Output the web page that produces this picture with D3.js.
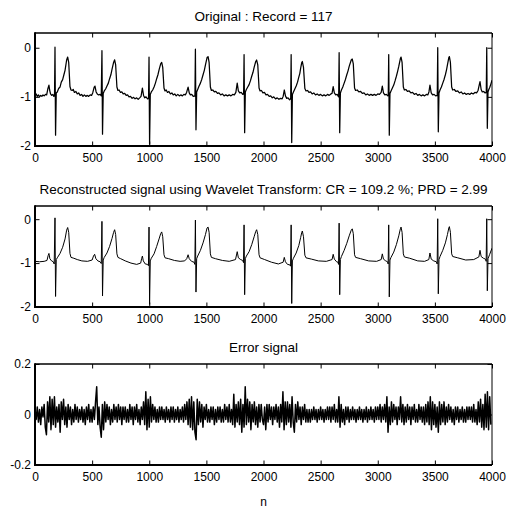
<!DOCTYPE html>
<html>
<head>
<meta charset="utf-8">
<script src="https://cdn.jsdelivr.net/npm/d3@7"></script>
<style>
  body { margin: 0; background: #fff; }
  text { font-family: "Liberation Sans", Arial, sans-serif; fill: #000; }
</style>
</head>
<body>
<div id="chart"></div>
<script>

// x ticks shared by all three panels
var xTicks = [0, 500, 1000, 1500, 2000, 2500, 3000, 3500, 4000];
var ecgTicks = [-2, -1, 0];
var errTicks = [-0.2, 0, 0.2];

var titles = [
  "Original : Record = 117",
  "Reconstructed signal using Wavelet Transform: CR = 109.2 %; PRD = 2.99",
  "Error signal"
];

// original record, [sample, amplitude]
var origSignal = [
[0,-0.97],[10,-0.94],[20,-0.99],[30,-0.96],[40,-1.0],[50,-0.97],[60,-0.99],[70,-0.96],[80,-0.98],[92,-0.95],[102,-0.96],[112,-0.84],[122,-0.76],[128,-0.86],[136,-0.94],[146,-0.97],[156,-0.95],[165,-0.99],[171,-0.97],[175,0.01],[180,-1.78],[186,-0.92],[195,-0.9],[207,-0.83],[219,-0.8],[230,-0.7],[242,-0.65],[253,-0.55],[263,-0.46],[277,-0.25],[286,-0.19],[295,-0.3],[306,-0.79],[315,-0.86],[325,-0.87],[335,-0.85],[345,-0.91],[358,-0.89],[370,-0.94],[382,-0.92],[395,-0.97],[408,-0.95],[420,-0.99],[432,-0.96],[445,-0.99],[458,-0.97],[470,-0.99],[483,-0.96],[495,-0.97],
[505,-0.92],[518,-0.8],[525,-0.78],[535,-0.9],[545,-0.94],[557,-0.96],[570,-0.95],[580,-0.98],[586,-0.06],[591,-1.76],[597,-0.93],[606,-0.88],[618,-0.84],[630,-0.78],[642,-0.72],[653,-0.63],[664,-0.55],[674,-0.44],[688,-0.3],[697,-0.245],[706,-0.35],[717,-0.8],[726,-0.87],[736,-0.86],[748,-0.91],[760,-0.9],[772,-0.94],[785,-0.93],[798,-0.97],[810,-0.96],[823,-1.0],[836,-0.99],[850,-1.03],[863,-1.01],[876,-1.04],[890,-1.02],[903,-1.05],[916,-1.02],[928,-0.99],
[940,-0.82],[950,-0.97],[960,-1.02],[972,-1.0],[985,-1.04],[994,-1.03],[998,-0.19],[1003,-1.96],[1009,-0.95],[1018,-0.9],[1030,-0.86],[1042,-0.8],[1054,-0.72],[1065,-0.63],[1076,-0.55],[1086,-0.45],[1100,-0.33],[1109,-0.3],[1118,-0.4],[1129,-0.82],[1138,-0.88],[1148,-0.86],[1160,-0.91],[1172,-0.89],[1185,-0.94],[1198,-0.92],[1210,-0.96],[1223,-0.94],[1236,-0.98],[1250,-0.95],[1263,-0.98],[1276,-0.96],[1290,-0.98],[1303,-0.95],[1316,-0.96],[1327,-0.91],
[1340,-0.8],[1350,-0.92],[1360,-0.96],[1372,-0.95],[1385,-0.99],[1400,-0.98],[1404,-0.03],[1409,-1.67],[1415,-0.9],[1424,-0.85],[1436,-0.78],[1448,-0.72],[1460,-0.64],[1471,-0.55],[1482,-0.46],[1492,-0.35],[1506,-0.2],[1515,-0.18],[1524,-0.3],[1535,-0.8],[1544,-0.87],[1556,-0.86],[1570,-0.9],[1583,-0.89],[1597,-0.93],[1610,-0.92],[1625,-0.96],[1640,-0.94],[1655,-0.98],[1670,-0.96],[1685,-0.98],[1700,-0.96],[1715,-0.98],[1730,-0.95],[1745,-0.96],[1758,-0.91],
[1770,-0.72],[1780,-0.88],[1792,-0.92],[1805,-0.91],[1818,-0.95],[1826,-0.94],[1830,-0.14],[1835,-1.73],[1841,-0.9],[1850,-0.85],[1862,-0.8],[1874,-0.75],[1886,-0.67],[1897,-0.58],[1908,-0.5],[1918,-0.4],[1932,-0.28],[1940,-0.25],[1950,-0.35],[1961,-0.82],[1970,-0.88],[1982,-0.87],[1995,-0.92],[2008,-0.91],[2022,-0.96],[2035,-0.95],[2050,-0.99],[2063,-0.98],[2077,-1.02],[2090,-1.0],[2105,-1.04],[2120,-1.02],[2135,-1.05],[2150,-1.03],[2163,-1.04],[2172,-0.99],
[2182,-0.86],[2192,-0.98],[2203,-1.03],[2215,-1.02],[2228,-1.06],[2238,-1.04],[2242,-0.14],[2247,-1.93],[2253,-0.95],[2262,-0.9],[2274,-0.84],[2286,-0.78],[2298,-0.7],[2309,-0.6],[2318,-0.52],[2325,-0.42],[2335,-0.3],[2340,-0.28],[2350,-0.4],[2362,-0.83],[2372,-0.88],[2385,-0.87],[2398,-0.91],[2412,-0.9],[2426,-0.94],[2440,-0.92],[2455,-0.96],[2470,-0.94],[2485,-0.97],[2500,-0.95],[2515,-0.98],[2530,-0.96],[2545,-0.98],[2560,-0.95],[2575,-0.97],[2590,-0.94],[2600,-0.93],
[2610,-0.79],[2620,-0.92],[2632,-0.96],[2645,-0.95],[2655,-0.99],[2658,-1.0],[2662,-0.1],[2667,-1.73],[2673,-0.92],[2682,-0.86],[2694,-0.8],[2706,-0.72],[2718,-0.64],[2729,-0.55],[2740,-0.47],[2750,-0.38],[2768,-0.25],[2777,-0.23],[2786,-0.33],[2797,-0.82],[2806,-0.87],[2820,-0.86],[2835,-0.9],[2850,-0.89],[2865,-0.93],[2880,-0.92],[2895,-0.96],[2910,-0.94],[2925,-0.97],[2940,-0.95],[2955,-0.97],[2970,-0.95],[2985,-0.97],[3000,-0.94],[3015,-0.95],[3030,-0.91],
[3040,-0.78],[3050,-0.92],[3062,-0.96],[3075,-0.95],[3088,-0.98],[3092,-0.97],[3096,-0.14],[3101,-1.78],[3107,-0.93],[3116,-0.88],[3128,-0.82],[3140,-0.76],[3152,-0.67],[3163,-0.58],[3174,-0.48],[3184,-0.38],[3198,-0.22],[3204,-0.19],[3213,-0.3],[3224,-0.8],[3233,-0.86],[3246,-0.85],[3260,-0.89],[3275,-0.88],[3290,-0.92],[3305,-0.91],[3320,-0.95],[3335,-0.93],[3350,-0.97],[3365,-0.95],[3380,-0.98],[3395,-0.96],[3410,-0.98],[3425,-0.95],[3438,-0.96],[3448,-0.9],
[3457,-0.76],[3468,-0.92],[3480,-0.96],[3493,-0.95],[3507,-0.98],[3521,-0.97],[3525,0.0],[3530,-1.71],[3536,-0.92],[3545,-0.86],[3557,-0.8],[3569,-0.72],[3581,-0.64],[3592,-0.55],[3602,-0.45],[3610,-0.35],[3622,-0.2],[3627,-0.18],[3636,-0.3],[3647,-0.8],[3656,-0.86],[3670,-0.85],[3685,-0.89],[3700,-0.88],[3715,-0.92],[3730,-0.9],[3745,-0.94],[3760,-0.92],[3775,-0.95],[3790,-0.93],[3805,-0.95],[3820,-0.92],[3835,-0.94],[3850,-0.91],[3865,-0.92],[3878,-0.87],
[3888,-0.76],[3895,-0.69],[3905,-0.85],[3915,-0.9],[3927,-0.89],[3940,-0.92],[3950,-0.91],[3954,0.0],[3959,-1.64],[3965,-0.9],[3972,-0.85],[3980,-0.81],[3990,-0.74],[4000,-0.66]
];

// wavelet reconstruction, smoother
var reconSignal = [
[0,-0.96],[40,-0.97],[80,-0.96],[105,-0.94],[115,-0.83],[122,-0.78],[130,-0.9],[145,-0.95],[160,-0.97],[168,-1.02],[175,0.03],[180,-1.76],[186,-0.92],[195,-0.88],[219,-0.78],[242,-0.64],[263,-0.45],[277,-0.25],[286,-0.19],[295,-0.3],[306,-0.78],[315,-0.87],[340,-0.89],[370,-0.92],[410,-0.95],[460,-0.96],[500,-0.93],
[512,-0.84],[522,-0.8],[533,-0.9],[550,-0.95],[570,-0.97],[580,-1.01],[586,-0.05],[591,-1.75],[597,-0.93],[606,-0.87],[630,-0.77],[653,-0.62],[674,-0.44],[688,-0.3],[697,-0.24],[706,-0.35],[717,-0.79],[726,-0.87],[750,-0.9],[790,-0.95],[840,-1.0],[890,-1.03],[925,-1.0],
[933,-0.9],[940,-0.84],[948,-0.95],[965,-1.02],[985,-1.03],[993,-1.06],[998,-0.18],[1003,-1.94],[1009,-0.95],[1018,-0.89],[1042,-0.79],[1065,-0.62],[1086,-0.45],[1100,-0.33],[1109,-0.29],[1118,-0.4],[1129,-0.81],[1138,-0.88],[1170,-0.9],[1220,-0.94],[1270,-0.96],[1310,-0.95],[1328,-0.9],
[1340,-0.81],[1350,-0.9],[1370,-0.96],[1392,-0.98],[1399,-1.03],[1404,-0.02],[1409,-1.66],[1415,-0.9],[1424,-0.84],[1448,-0.71],[1471,-0.54],[1492,-0.35],[1506,-0.2],[1515,-0.18],[1524,-0.3],[1535,-0.79],[1544,-0.87],[1580,-0.9],[1640,-0.94],[1700,-0.96],[1755,-0.92],
[1770,-0.74],[1780,-0.88],[1800,-0.92],[1818,-0.94],[1825,-0.99],[1830,-0.13],[1835,-1.72],[1841,-0.9],[1850,-0.84],[1874,-0.74],[1897,-0.58],[1918,-0.4],[1932,-0.28],[1940,-0.24],[1950,-0.35],[1961,-0.81],[1970,-0.88],[2010,-0.92],[2070,-0.98],[2130,-1.02],[2172,-0.98],
[2182,-0.87],[2192,-0.97],[2210,-1.03],[2230,-1.04],[2237,-1.07],[2242,-0.13],[2247,-1.92],[2253,-0.95],[2262,-0.89],[2286,-0.77],[2309,-0.6],[2325,-0.42],[2335,-0.3],[2340,-0.27],[2350,-0.4],[2362,-0.82],[2372,-0.88],[2420,-0.91],[2480,-0.95],[2550,-0.96],[2600,-0.92],
[2610,-0.8],[2620,-0.91],[2640,-0.97],[2652,-0.98],[2657,-1.03],[2662,-0.09],[2667,-1.72],[2673,-0.92],[2682,-0.85],[2706,-0.71],[2729,-0.55],[2750,-0.38],[2768,-0.25],[2777,-0.22],[2786,-0.33],[2797,-0.81],[2806,-0.87],[2850,-0.9],[2920,-0.95],[2990,-0.96],[3030,-0.92],
[3040,-0.79],[3050,-0.91],[3070,-0.95],[3086,-0.97],[3091,-1.02],[3096,-0.13],[3101,-1.77],[3107,-0.93],[3116,-0.87],[3140,-0.75],[3163,-0.58],[3184,-0.38],[3198,-0.22],[3204,-0.18],[3213,-0.3],[3224,-0.79],[3233,-0.86],[3280,-0.89],[3350,-0.95],[3410,-0.96],[3447,-0.92],
[3457,-0.77],[3468,-0.91],[3490,-0.95],[3513,-0.97],[3520,-1.02],[3525,0.01],[3530,-1.7],[3536,-0.92],[3545,-0.85],[3569,-0.71],[3592,-0.54],[3610,-0.35],[3622,-0.2],[3627,-0.17],[3636,-0.3],[3647,-0.79],[3656,-0.85],[3700,-0.88],[3770,-0.93],[3840,-0.92],[3885,-0.86],
[3895,-0.71],[3905,-0.85],[3925,-0.89],[3943,-0.91],[3949,-0.96],[3954,0.01],[3959,-1.63],[3965,-0.9],[3980,-0.8],[4000,-0.66]
];

// error signal, one value every 10 samples (n = 0, 10, ... 3990)
var errStep = 10;
var errValues = [
0.01,-0.02,0.03,-0.03,0.02,-0.04,0.03,-0.01,0.04,-0.05,-0.08,0.05,-0.03,0.07,-0.06,0.06,-0.04,0.07,-0.05,0.03,
-0.03,0.04,-0.07,0.05,-0.02,0.06,-0.04,0.03,-0.05,0.04,-0.02,0.03,-0.04,0.02,-0.03,0.04,-0.02,0.03,-0.03,0.02,
-0.02,0.03,-0.03,0.02,-0.04,0.03,-0.02,0.04,-0.03,0.02,-0.03,0.03,-0.02,0.05,0.11,-0.04,0.03,-0.05,-0.09,0.04,
-0.06,0.05,-0.03,0.04,-0.02,0.03,-0.04,0.02,-0.03,0.04,-0.02,0.03,-0.03,0.04,-0.02,0.03,-0.04,0.03,-0.02,0.03,
-0.03,0.02,-0.03,0.04,-0.02,0.03,-0.04,0.03,-0.02,0.04,-0.03,0.02,-0.04,0.03,-0.02,0.05,-0.04,0.09,-0.06,0.06,
-0.05,0.07,-0.03,0.04,-0.02,0.03,-0.03,0.02,-0.03,0.03,-0.02,0.03,-0.02,0.02,-0.03,0.03,-0.02,0.02,-0.03,0.03,
-0.02,0.03,-0.03,0.02,-0.02,0.03,-0.03,0.02,-0.02,0.03,-0.03,0.04,-0.02,0.05,-0.04,0.06,-0.05,0.07,-0.06,0.05,
-0.07,-0.1,0.06,-0.04,0.05,-0.03,0.04,-0.05,0.03,-0.02,0.04,-0.03,0.02,-0.03,0.03,-0.02,0.03,-0.04,0.02,-0.03,
0.03,-0.02,0.03,-0.03,0.02,-0.03,0.04,-0.02,0.03,-0.03,0.04,-0.03,0.02,-0.04,0.08,-0.05,0.04,-0.03,0.05,-0.04,
0.06,-0.07,0.04,-0.05,0.11,-0.04,0.06,-0.03,0.05,-0.06,0.04,-0.03,0.05,-0.04,0.03,-0.05,0.04,-0.03,0.04,-0.02,
-0.04,0.03,-0.06,0.04,-0.03,0.04,-0.02,0.03,-0.04,0.03,-0.02,0.04,-0.03,0.03,-0.05,0.04,-0.03,0.09,-0.06,0.05,
-0.04,0.05,-0.03,0.04,-0.05,0.07,-0.03,-0.07,0.04,-0.03,0.05,-0.02,0.03,-0.04,0.03,-0.02,0.04,-0.03,0.02,-0.03,
0.02,-0.03,0.02,-0.02,0.03,-0.02,0.02,-0.03,0.02,-0.02,0.03,-0.02,0.02,-0.03,0.02,-0.02,0.03,-0.02,0.03,-0.03,
0.03,-0.02,0.04,-0.03,0.02,-0.03,0.07,-0.05,0.04,-0.03,0.02,-0.04,0.03,-0.02,0.03,-0.03,0.02,-0.02,0.03,-0.02,
0.02,-0.03,0.02,-0.02,0.03,-0.02,0.02,-0.03,0.02,-0.02,0.03,-0.03,0.02,-0.02,0.03,-0.02,0.02,-0.03,0.03,-0.02,
0.03,-0.02,0.04,-0.03,0.03,-0.02,0.04,-0.03,0.07,-0.07,0.03,-0.04,0.05,-0.03,0.04,-0.02,0.03,-0.04,0.03,-0.02,
0.07,-0.03,0.04,-0.04,0.03,-0.03,0.04,-0.02,0.03,-0.04,0.03,-0.02,0.04,-0.03,0.02,-0.03,0.04,-0.02,0.03,-0.03,
0.03,-0.04,0.04,-0.03,0.05,-0.04,0.07,-0.06,0.05,-0.04,0.04,-0.05,0.03,-0.07,0.05,-0.04,0.04,-0.03,0.05,-0.04,
0.03,-0.03,0.04,-0.02,0.03,-0.03,0.02,-0.04,0.03,-0.02,0.03,-0.03,0.02,-0.02,0.03,-0.03,0.02,-0.03,0.03,-0.02,
0.03,-0.02,0.03,-0.03,0.04,-0.03,0.02,-0.04,0.05,-0.03,0.06,-0.05,0.04,-0.06,0.08,-0.05,0.09,-0.06,0.07,-0.04
];

var W = 509, H = 510;
var left = 35, right = 492;

var svg = d3.select("#chart")
  .append("svg")
    .attr("width", W)
    .attr("height", H);

var x = d3.scaleLinear()
  .domain([0, 4000])
  .range([0, right - left]);

var errSignal = errValues.map(function (v, i) { return [i * errStep, v]; });

// one panel per subplot
var panels = [
  {top: 33,  bottom: 146, domain: [-2, 0.3],   ticks: ecgTicks, data: origSignal,  width: 1.25, title: titles[0]},
  {top: 206, bottom: 307, domain: [-2, 0.3],   ticks: ecgTicks, data: reconSignal, width: 1.0,  title: titles[1]},
  {top: 364, bottom: 465, domain: [-0.2, 0.2], ticks: errTicks, data: errSignal,   width: 1.5,  title: titles[2]}
];

var tick = 4.5;

panels.forEach(function (p, k) {
  var h = p.bottom - p.top;
  var w = right - left;
  var y = d3.scaleLinear().domain(p.domain).range([h, 0]);

  var g = svg.append("g")
    .attr("transform", "translate(" + left + "," + p.top + ")");

  g.append("clipPath").attr("id", "clip" + k)
    .append("rect").attr("width", w).attr("height", h);

  var line = d3.line()
    .x(function (d) { return x(d[0]); })
    .y(function (d) { return y(d[1]); });

  g.append("path")
    .datum(p.data)
    .attr("clip-path", "url(#clip" + k + ")")
    .attr("fill", "none")
    .attr("stroke", "#000")
    .attr("stroke-width", p.width)
    .attr("stroke-linejoin", "round")
    .attr("d", line);

  // axes, ticks pointing inward like matlab
  var fmt = function (d) { return String(d); };

  g.append("g")
    .attr("transform", "translate(0," + h + ")")
    .call(d3.axisBottom(x).tickValues(xTicks).tickFormat(fmt)
      .tickSizeInner(-tick).tickSizeOuter(0).tickPadding(7));
  g.append("g")
    .call(d3.axisTop(x).tickValues(xTicks).tickFormat("")
      .tickSizeInner(-tick).tickSizeOuter(0));
  g.append("g")
    .call(d3.axisLeft(y).tickValues(p.ticks).tickFormat(fmt)
      .tickSizeInner(-tick).tickSizeOuter(0).tickPadding(4));
  g.append("g")
    .attr("transform", "translate(" + w + ",0)")
    .call(d3.axisRight(y).tickValues(p.ticks).tickFormat("")
      .tickSizeInner(-tick).tickSizeOuter(0));

  g.selectAll(".domain").remove();
  g.selectAll(".tick line").attr("stroke", "#000");
  g.selectAll(".tick text")
    .attr("font-size", 12)
    .attr("font-family", "Liberation Sans, Arial, sans-serif")
    .attr("fill", "#000");

  // box
  g.append("line").attr("x1", 0).attr("x2", w).attr("y1", 0).attr("y2", 0)
    .attr("stroke", "#000").attr("stroke-width", 1.4);
  g.append("line").attr("x1", w).attr("x2", w).attr("y1", 0).attr("y2", h)
    .attr("stroke", "#000").attr("stroke-width", 1);
  g.append("line").attr("x1", 0).attr("x2", 0).attr("y1", -0.7).attr("y2", h + 1)
    .attr("stroke", "#000").attr("stroke-width", 2);
  g.append("line").attr("x1", -1).attr("x2", w).attr("y1", h).attr("y2", h)
    .attr("stroke", "#000").attr("stroke-width", 2);

  svg.append("text")
    .attr("x", left + w / 2)
    .attr("y", p.top - 12)
    .attr("text-anchor", "middle")
    .attr("font-size", 13.5)
    .text(p.title);
});

svg.append("text")
  .attr("x", left + (right - left) / 2)
  .attr("y", 506)
  .attr("text-anchor", "middle")
  .attr("font-size", 12)
  .text("n");

</script>
</body>
</html>
